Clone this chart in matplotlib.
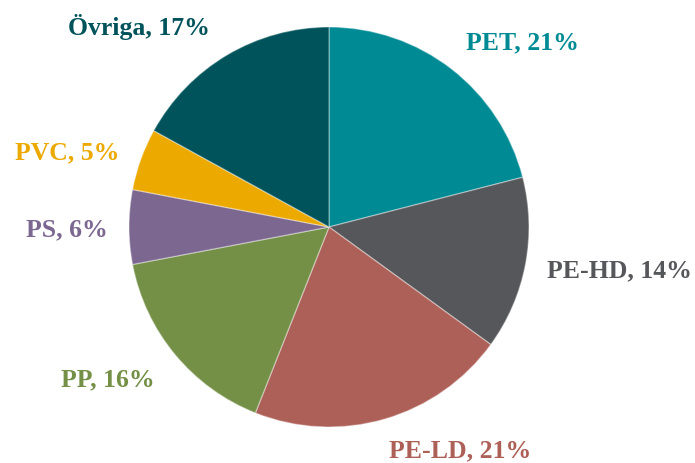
import matplotlib.pyplot as plt

labels = ['PET', 'PE-HD', 'PE-LD', 'PP', 'PS', 'PVC', 'Övriga']
shares = [21, 14, 21, 16, 6, 5, 17]
colors = ['#008a94', '#56575b', '#ad6057', '#748f46', '#7b6790', '#eca900', '#00535a']

# label centres in pixel coords (x from left, y from top)
label_pos = [(522, 43), (619, 271), (460, 451), (108, 380), (67, 230), (67, 153), (139, 27)]

W, H = 695, 464
fig = plt.figure(figsize=(W / 100, H / 100), dpi=100)
ax = fig.add_axes([0, 0, 1, 1])

ax.pie(shares, colors=colors, startangle=90, counterclock=False,
       center=(329, H - 228), radius=200, frame=True,
       wedgeprops=dict(edgecolor=(1, 1, 1, 0.35), linewidth=1))
ax.set_xlim(0, W)
ax.set_ylim(0, H)
ax.set_aspect('equal')
ax.axis('off')

for lab, val, c, (x, y) in zip(labels, shares, colors, label_pos):
    ax.text(x, H - y, '%s, %d%%' % (lab, val), color=c, fontsize=18.5,
            fontweight='bold', family='Liberation Serif',
            ha='center', va='center')

fig.savefig('out.png', dpi=100)
